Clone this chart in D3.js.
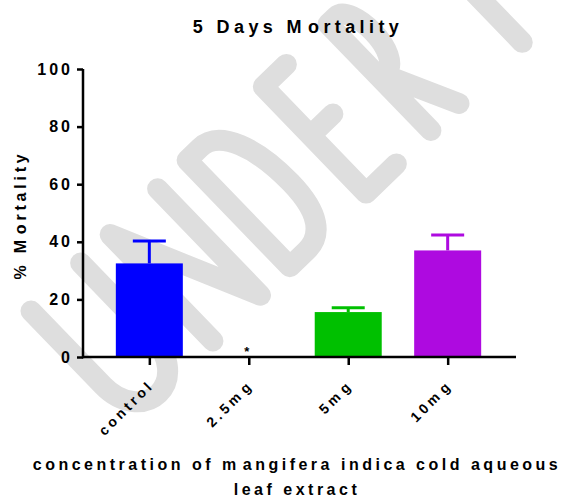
<!DOCTYPE html>
<html>
<head>
<meta charset="utf-8">
<script src="https://cdn.jsdelivr.net/npm/d3@7"></script>
<style>
  html, body { margin: 0; padding: 0; background: #fff; }
  text { font-family: "Liberation Sans", Arial, sans-serif; font-weight: bold; fill: #000; }
</style>
</head>
<body>
<div id="chart"></div>
<script>
var width = 563,
    height = 499;

// data
var categories = ["control", "2.5mg", "5mg", "10mg"];
var tickParts = [["control"], ["2.5m", "g"], ["5m", "g"], ["10m", "g"]];
var means = [32.5, 0, 15.6, 37];
var errs = [7.8, 0, 1.5, 5.4];
var colors = ["#0000ff", "#00c000", "#00c000", "#ae0ae0"];
var yTicks = [0, 20, 40, 60, 80, 100];
var starred = ["2.5mg"];
var titleParts = ["5 Days M", "ortality"];
var yTitleParts = ["% M", "ortality"];
var xTitleLines = [["concentration of m", "angifera indica cold aqueous"], ["leaf extract"]];

var svg = d3.select("#chart").append("svg")
    .attr("width", width)
    .attr("height", height);

// watermark, single stroke letters (local frame: cap top y=0, baseline y=148)
var wmPaths = [
  "M0,0 V104 C0,130 16,148 34.5,148 C53,148 69,130 69,104 V0",
  "M110,148 V0 L176,148 V0",
  "M217,0 H235 C262,0 276,40 276,88 C276,130 262,148 240,148 H217 Z",
  "M355,0 H323 V148 H365 M323,68 H354",
  "M413,148 V0 H424 C434,0 440,18 440,37 C440,58 432,75 422,75 H413 M418,75 L452,148",
  "M540,148 V0 H551 C561,0 567,18 567,37 C567,58 559,75 549,75 H540"
];
svg.append("g")
    .attr("transform", "translate(31,311) rotate(-44)")
  .selectAll("path")
  .data(wmPaths)
  .enter().append("path")
    .attr("d", function(d) { return d; })
    .style("fill", "none")
    .style("stroke", "#dedede")
    .style("stroke-width", 21)
    .style("stroke-linecap", "round")
    .style("stroke-linejoin", "round");

var x = d3.scalePoint()
    .domain(categories)
    .range([83, 514])
    .padding(0.667);

var y = d3.scaleLinear()
    .domain([0, 100])
    .range([357, 69]);

var barW = 67;

// bars
svg.selectAll(".bar")
  .data(categories)
  .enter().append("rect")
    .attr("class", "bar")
    .attr("x", function(d) { return x(d) - barW / 2; })
    .attr("y", function(d, i) { return y(means[i]); })
    .attr("width", barW)
    .attr("height", function(d, i) { return y(0) - y(means[i]); })
    .style("fill", function(d, i) { return colors[i]; });

// error bars (upper only)
var eb = svg.selectAll(".err")
  .data(categories.filter(function(d, i) { return errs[i] > 0; }))
  .enter().append("g")
    .attr("class", "err")
    .style("stroke", function(d) { return colors[categories.indexOf(d)]; })
    .style("stroke-width", 3);

eb.append("line")
    .attr("x1", function(d) { return x(d); })
    .attr("x2", function(d) { return x(d); })
    .attr("y1", function(d) { var i = categories.indexOf(d); return y(means[i]); })
    .attr("y2", function(d) { var i = categories.indexOf(d); return y(means[i] + errs[i]); });

eb.append("line")
    .attr("x1", function(d) { return x(d) - 16.5; })
    .attr("x2", function(d) { return x(d) + 16.5; })
    .attr("y1", function(d) { var i = categories.indexOf(d); return y(means[i] + errs[i]); })
    .attr("y2", function(d) { var i = categories.indexOf(d); return y(means[i] + errs[i]); });

// asterisk
svg.selectAll(".star")
  .data(starred)
  .enter().append("text")
    .attr("x", function(d) { return x(d) - 2; })
    .attr("y", y(0) - 1)
    .attr("text-anchor", "middle")
    .attr("font-size", 13)
    .text("*");

// y axis
var yAxis = svg.append("g")
    .attr("transform", "translate(83,0)")
    .call(d3.axisLeft(y).tickValues(yTicks).tickSize(6).tickPadding(5));

// x axis
var xAxis = svg.append("g")
    .attr("transform", "translate(0," + y(0) + ")")
    .call(d3.axisBottom(x).tickSize(8));

[yAxis, xAxis].forEach(function(a) {
  a.select(".domain").style("stroke", "#000").style("stroke-width", 2.5);
  a.selectAll(".tick line").style("stroke", "#000").style("stroke-width", 2.5);
  a.selectAll("text").style("font-family", "Liberation Sans, Arial, sans-serif")
    .style("font-weight", "bold").style("fill", "#000");
});
xAxis.select(".domain").attr("d", "M82,0H516");
yAxis.select(".domain").attr("d", "M0," + (y(0) + 1.25) + "V" + y(100));

yAxis.selectAll("text")
    .attr("font-size", 16)
    .style("letter-spacing", "3px")
    .attr("dx", 1);

xAxis.selectAll("text")
    .text("")
    .attr("font-size", 14)
    .style("letter-spacing", "3.4px")
    .attr("text-anchor", "end")
    .attr("dy", 0)
    .attr("y", 0)
    .attr("transform", "translate(5,29) rotate(-45)")
    .each(function(d, i) {
      var t = d3.select(this);
      tickParts[i].forEach(function(p, j) {
        t.append("tspan").attr("dx", j ? 2 : null).text(p);
      });
    });

function addParts(sel, parts, gap) {
  parts.forEach(function(p, j) {
    sel.append("tspan").attr("dx", j ? gap : null).text(p);
  });
}

// title
var title = svg.append("text")
    .attr("x", 298)
    .attr("y", 33)
    .attr("text-anchor", "middle")
    .attr("font-size", 18)
    .style("letter-spacing", "4.4px");
addParts(title, titleParts, 2);

// y title
var yt = svg.append("text")
    .attr("transform", "translate(26,215) rotate(-90)")
    .attr("text-anchor", "middle")
    .attr("font-size", 16)
    .style("letter-spacing", "3.8px");
addParts(yt, yTitleParts, 2);

// x title
var xt = svg.append("text")
    .attr("text-anchor", "middle")
    .attr("font-size", 16)
    .style("letter-spacing", "3.5px");
xTitleLines.forEach(function(line, k) {
  line.forEach(function(p, j) {
    var ts = xt.append("tspan").text(p);
    if (j === 0) ts.attr("x", 297).attr("y", 470 + k * 25);
    else ts.attr("dx", 3);
  });
});
</script>
</body>
</html>
